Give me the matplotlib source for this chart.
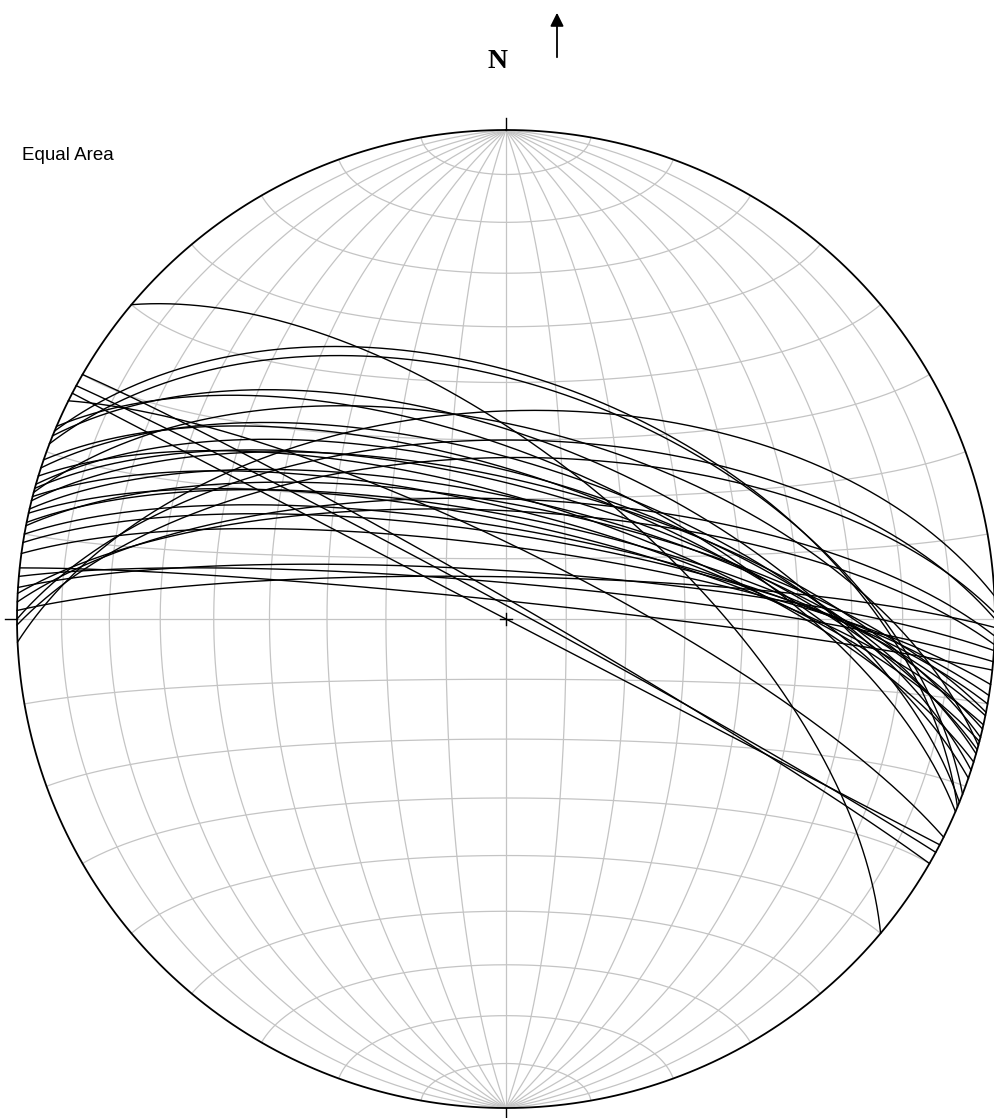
import numpy as np
import matplotlib
matplotlib.use("Agg")
import matplotlib.pyplot as plt

# Planes (strike azimuth, right-hand rule; dip in degrees)
strikes = [310, 300, 298.5, 297.5, 296.5, 292.6, 291, 293.2, 292, 289,
           287, 285.5, 284.5, 283, 282.5, 281.4, 280, 279, 277.7, 276,
           275, 273.7, 273, 272, 271, 269.3, 267.3, 270, 285, 286, 284,
           288, 281]
dips = [64, 87, 88, 90, 78.5, 50, 51, 63, 60, 66,
        70, 68, 72, 70, 74, 73, 75, 76, 78, 87,
        84, 82, 72, 70, 83, 63, 55, 60, 58, 66, 67,
        64, 71]

grid_step = 10
title_text = "Equal Area"
north_text = "N"

W, H = 995, 1118
CX, CY, R = 506, 619, 489

fig = plt.figure(figsize=(W / 100, H / 100), dpi=100)
ax = fig.add_axes([0, 0, 1, 1])
ax.set_xlim(0, W)
ax.set_ylim(H, 0)
ax.axis("off")


def proj(trend, plunge):
    rho = np.sqrt(2) * np.sin(np.radians(90 - plunge) / 2)
    x = CX + R * rho * np.sin(np.radians(trend))
    y = CY - R * rho * np.cos(np.radians(trend))
    return x, y


def vec_to_xy(vn, ve, vd):
    trend = np.degrees(np.arctan2(ve, vn))
    plunge = np.degrees(np.arcsin(np.clip(vd, -1, 1)))
    return proj(trend, plunge)


def great_circle(strike, dip, n=400):
    r = np.linspace(0, np.pi, n)
    s = np.radians(strike)
    d = np.radians(dip)
    dd = s + np.pi / 2
    vn = np.cos(r) * np.cos(s) + np.sin(r) * np.cos(d) * np.cos(dd)
    ve = np.cos(r) * np.sin(s) + np.sin(r) * np.cos(d) * np.sin(dd)
    vd = np.sin(r) * np.sin(d)
    return vec_to_xy(vn, ve, vd)


def small_circle_ns(a, n=400):
    phi = np.linspace(0, np.pi, n)
    a = np.radians(a)
    vn = np.full_like(phi, np.cos(a))
    ve = np.sin(a) * np.cos(phi)
    vd = np.sin(a) * np.sin(phi)
    return vec_to_xy(vn, ve, vd)


grid_kw = dict(color="#c4c4c4", lw=0.9, zorder=1)
for d in range(grid_step, 90, grid_step):
    ax.plot(*great_circle(0, d), **grid_kw)
    ax.plot(*great_circle(180, d), **grid_kw)
ax.plot(*great_circle(0, 90), **grid_kw)
for a in range(grid_step, 180, grid_step):
    ax.plot(*small_circle_ns(a), **grid_kw)

# primitive
t = np.linspace(0, 360, 721)
ax.plot(*proj(t, np.zeros_like(t)), color="black", lw=1.3, zorder=3)

# planes
for s, d in zip(strikes, dips):
    ax.plot(*great_circle(s, d), color="black", lw=1.0, zorder=2)

# ticks and center cross
ax.plot([CX, CX], [CY - R - 12, CY - R], color="black", lw=1.0, zorder=3)
ax.plot([CX, CX], [CY + R, CY + R + 12], color="black", lw=1.0, zorder=3)
ax.plot([CX - R - 12, CX - R], [CY, CY], color="black", lw=1.0, zorder=3)
ax.plot([CX - 6, CX + 6], [CY, CY], color="black", lw=1.0, zorder=3)
ax.plot([CX, CX], [CY - 6, CY + 6], color="black", lw=1.0, zorder=3)

ax.text(22, 155, title_text, fontsize=13.5, family="Liberation Sans",
        ha="left", va="center")
ax.text(497, 62, north_text, fontsize=20, family="Liberation Serif",
        fontweight="bold", ha="center", va="center")
ax.annotate("", xy=(557, 10), xytext=(557, 60),
            arrowprops=dict(arrowstyle="-|>", color="black", lw=1.3,
                            mutation_scale=20))

fig.savefig("out.png", dpi=100)
